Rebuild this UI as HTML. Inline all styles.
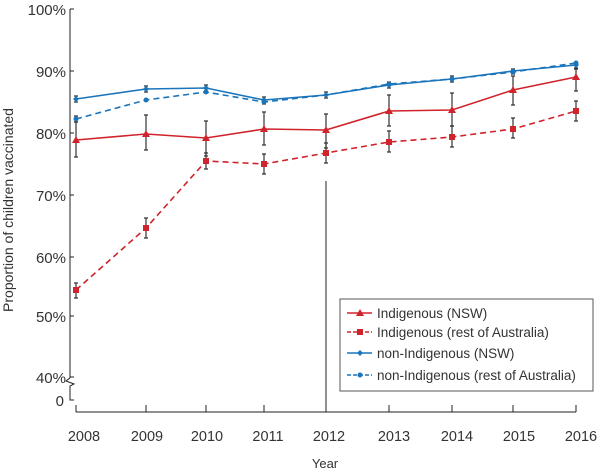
<!DOCTYPE html>
<html><head><style>body{margin:0;background:#fff}svg{display:block}text{font-family:"Liberation Sans",sans-serif;fill:#333}</style></head><body>
<svg width="600" height="472" viewBox="0 0 600 472">
<g stroke="#222" stroke-width="1" fill="none">
<path d="M70 9V378 M70 9H74 M70 71H74 M70 133H74 M70 195H74 M70 257H74 M70 316H74 M70 377H74"/>
<path d="M70 378 L66 381 L74 384 L70 386 V400 H74"/>
<path d="M76 412H576 M76 412V405 M146 412V405 M206 412V405 M264 412V405 M389 412V405 M452 412V405 M513 412V405 M576 412V405"/>
<path d="M326 181V412"/>
</g>
<g font-size="15" text-anchor="end">
<text x="66" y="15">100%</text><text x="66" y="77">90%</text><text x="66" y="139">80%</text><text x="66" y="201">70%</text><text x="66" y="263">60%</text><text x="66" y="322">50%</text><text x="66" y="383">40%</text><text x="64" y="406">0</text>
</g>
<g font-size="14.5" text-anchor="middle">
<text x="84" y="441">2008</text><text x="147" y="441">2009</text><text x="207" y="441">2010</text><text x="268" y="441">2011</text><text x="329" y="441">2012</text><text x="394" y="441">2013</text><text x="457" y="441">2014</text><text x="519" y="441">2015</text><text x="581" y="441">2016</text>
<text x="325" y="468" font-size="13">Year</text>
<text transform="translate(13,210) rotate(-90)" font-size="14">Proportion of children vaccinated</text>
</g>
<g stroke="#333" stroke-width="1.2">
<path d="M76 122V157M146 115V150M206 121V156M264 112V145M326 114V148M389 95V126M452 93V126M513 76V105M576 69V91"/>
<path d="M74 122h4M74 157h4M144 115h4M144 150h4M204 121h4M204 156h4M262 112h4M262 145h4M324 114h4M324 148h4M387 95h4M387 126h4M450 93h4M450 126h4M511 76h4M511 105h4M574 69h4M574 91h4"/>
<path d="M76 283V298M146 218V238M206 153V169M264 154V174M326 143V163M389 131V152M452 126V147M513 118V138M576 101V121"/>
<path d="M74 283h4M74 298h4M144 218h4M144 238h4M204 153h4M204 169h4M262 154h4M262 174h4M324 143h4M324 163h4M387 131h4M387 152h4M450 126h4M450 147h4M511 118h4M511 138h4M574 101h4M574 121h4"/>
<path d="M76 96V102M146 86V92M206 85V91M264 97V104M326 92V98M389 82V88M452 76V82M513 69V74M576 62V68"/>
<path d="M74 96h4M74 102h4M144 86h4M144 92h4M204 85h4M204 91h4M262 97h4M262 104h4M324 92h4M324 98h4M387 82h4M387 88h4M450 76h4M450 82h4M511 69h4M511 74h4M574 62h4M574 68h4"/>
<path d="M76 116V122M74 116h4M74 122h4"/>
</g>
<g fill="none" stroke-width="1.6">
<polyline stroke="#d0232b" points="76,140 146,134 206,138 264,129 326,130 389,111 452,110 513,90 576,77"/>
<polyline stroke="#d0232b" stroke-dasharray="6,4" points="76,290 146,228 206,161 264,164 326,153 389,142 452,137 513,129 576,111"/>
<polyline stroke="#1b75bb" points="76,99 146,89 206,88 264,100 326,95 389,85 452,79 513,71 576,65"/>
<polyline stroke="#1b75bb" stroke-dasharray="6,4" points="76,119 146,100 206,92 264,102 326,95 389,84 452,79 513,72 576,63"/>
</g>
<g fill="#d0232b">
<path d="M76 136l-4 7h8zM146 130l-4 7h8zM206 134l-4 7h8zM264 125l-4 7h8zM326 126l-4 7h8zM389 107l-4 7h8zM452 106l-4 7h8zM513 86l-4 7h8zM576 73l-4 7h8z"/>
<path d="M73 287h6v6h-6zM143 225h6v6h-6zM203 158h6v6h-6zM261 161h6v6h-6zM323 150h6v6h-6zM386 139h6v6h-6zM449 134h6v6h-6zM510 126h6v6h-6zM573 108h6v6h-6z"/>
</g>
<g fill="#1b75bb">
<path d="M76 96l3 3-3 3-3-3zM146 86l3 3-3 3-3-3zM206 85l3 3-3 3-3-3zM264 97l3 3-3 3-3-3zM326 92l3 3-3 3-3-3zM389 82l3 3-3 3-3-3zM452 76l3 3-3 3-3-3zM513 68l3 3-3 3-3-3zM576 62l3 3-3 3-3-3z"/>
<circle cx="76" cy="119" r="2.5"/><circle cx="146" cy="100" r="2.5"/><circle cx="206" cy="92" r="2.5"/><circle cx="264" cy="102" r="2.5"/><circle cx="389" cy="84" r="2.5"/><circle cx="452" cy="79" r="2.5"/><circle cx="513" cy="72" r="2.5"/><circle cx="576" cy="63" r="2.5"/>
</g>
<rect x="340" y="299" width="253" height="92" fill="#fff" stroke="#555" stroke-width="1"/>
<g stroke-width="1.5" fill="none">
<path d="M347 313H372" stroke="#d0232b"/>
<path d="M347 332H372" stroke="#d0232b" stroke-dasharray="4,2"/>
<path d="M347 353H372" stroke="#1b75bb"/>
<path d="M347 375H372" stroke="#1b75bb" stroke-dasharray="4,2"/>
</g>
<path d="M360 309l-4 7h8z" fill="#d0232b"/><rect x="357" y="329" width="6" height="6" fill="#d0232b"/>
<path d="M360 350l3 3-3 3-3-3z" fill="#1b75bb"/><circle cx="360" cy="375" r="2.5" fill="#1b75bb"/>
<g font-size="13.5">
<text x="377" y="318">Indigenous (NSW)</text>
<text x="377" y="337">Indigenous (rest of Australia)</text>
<text x="377" y="358">non-Indigenous (NSW)</text>
<text x="377" y="380">non-Indigenous (rest of Australia)</text>
</g>
</svg>
</body></html>
